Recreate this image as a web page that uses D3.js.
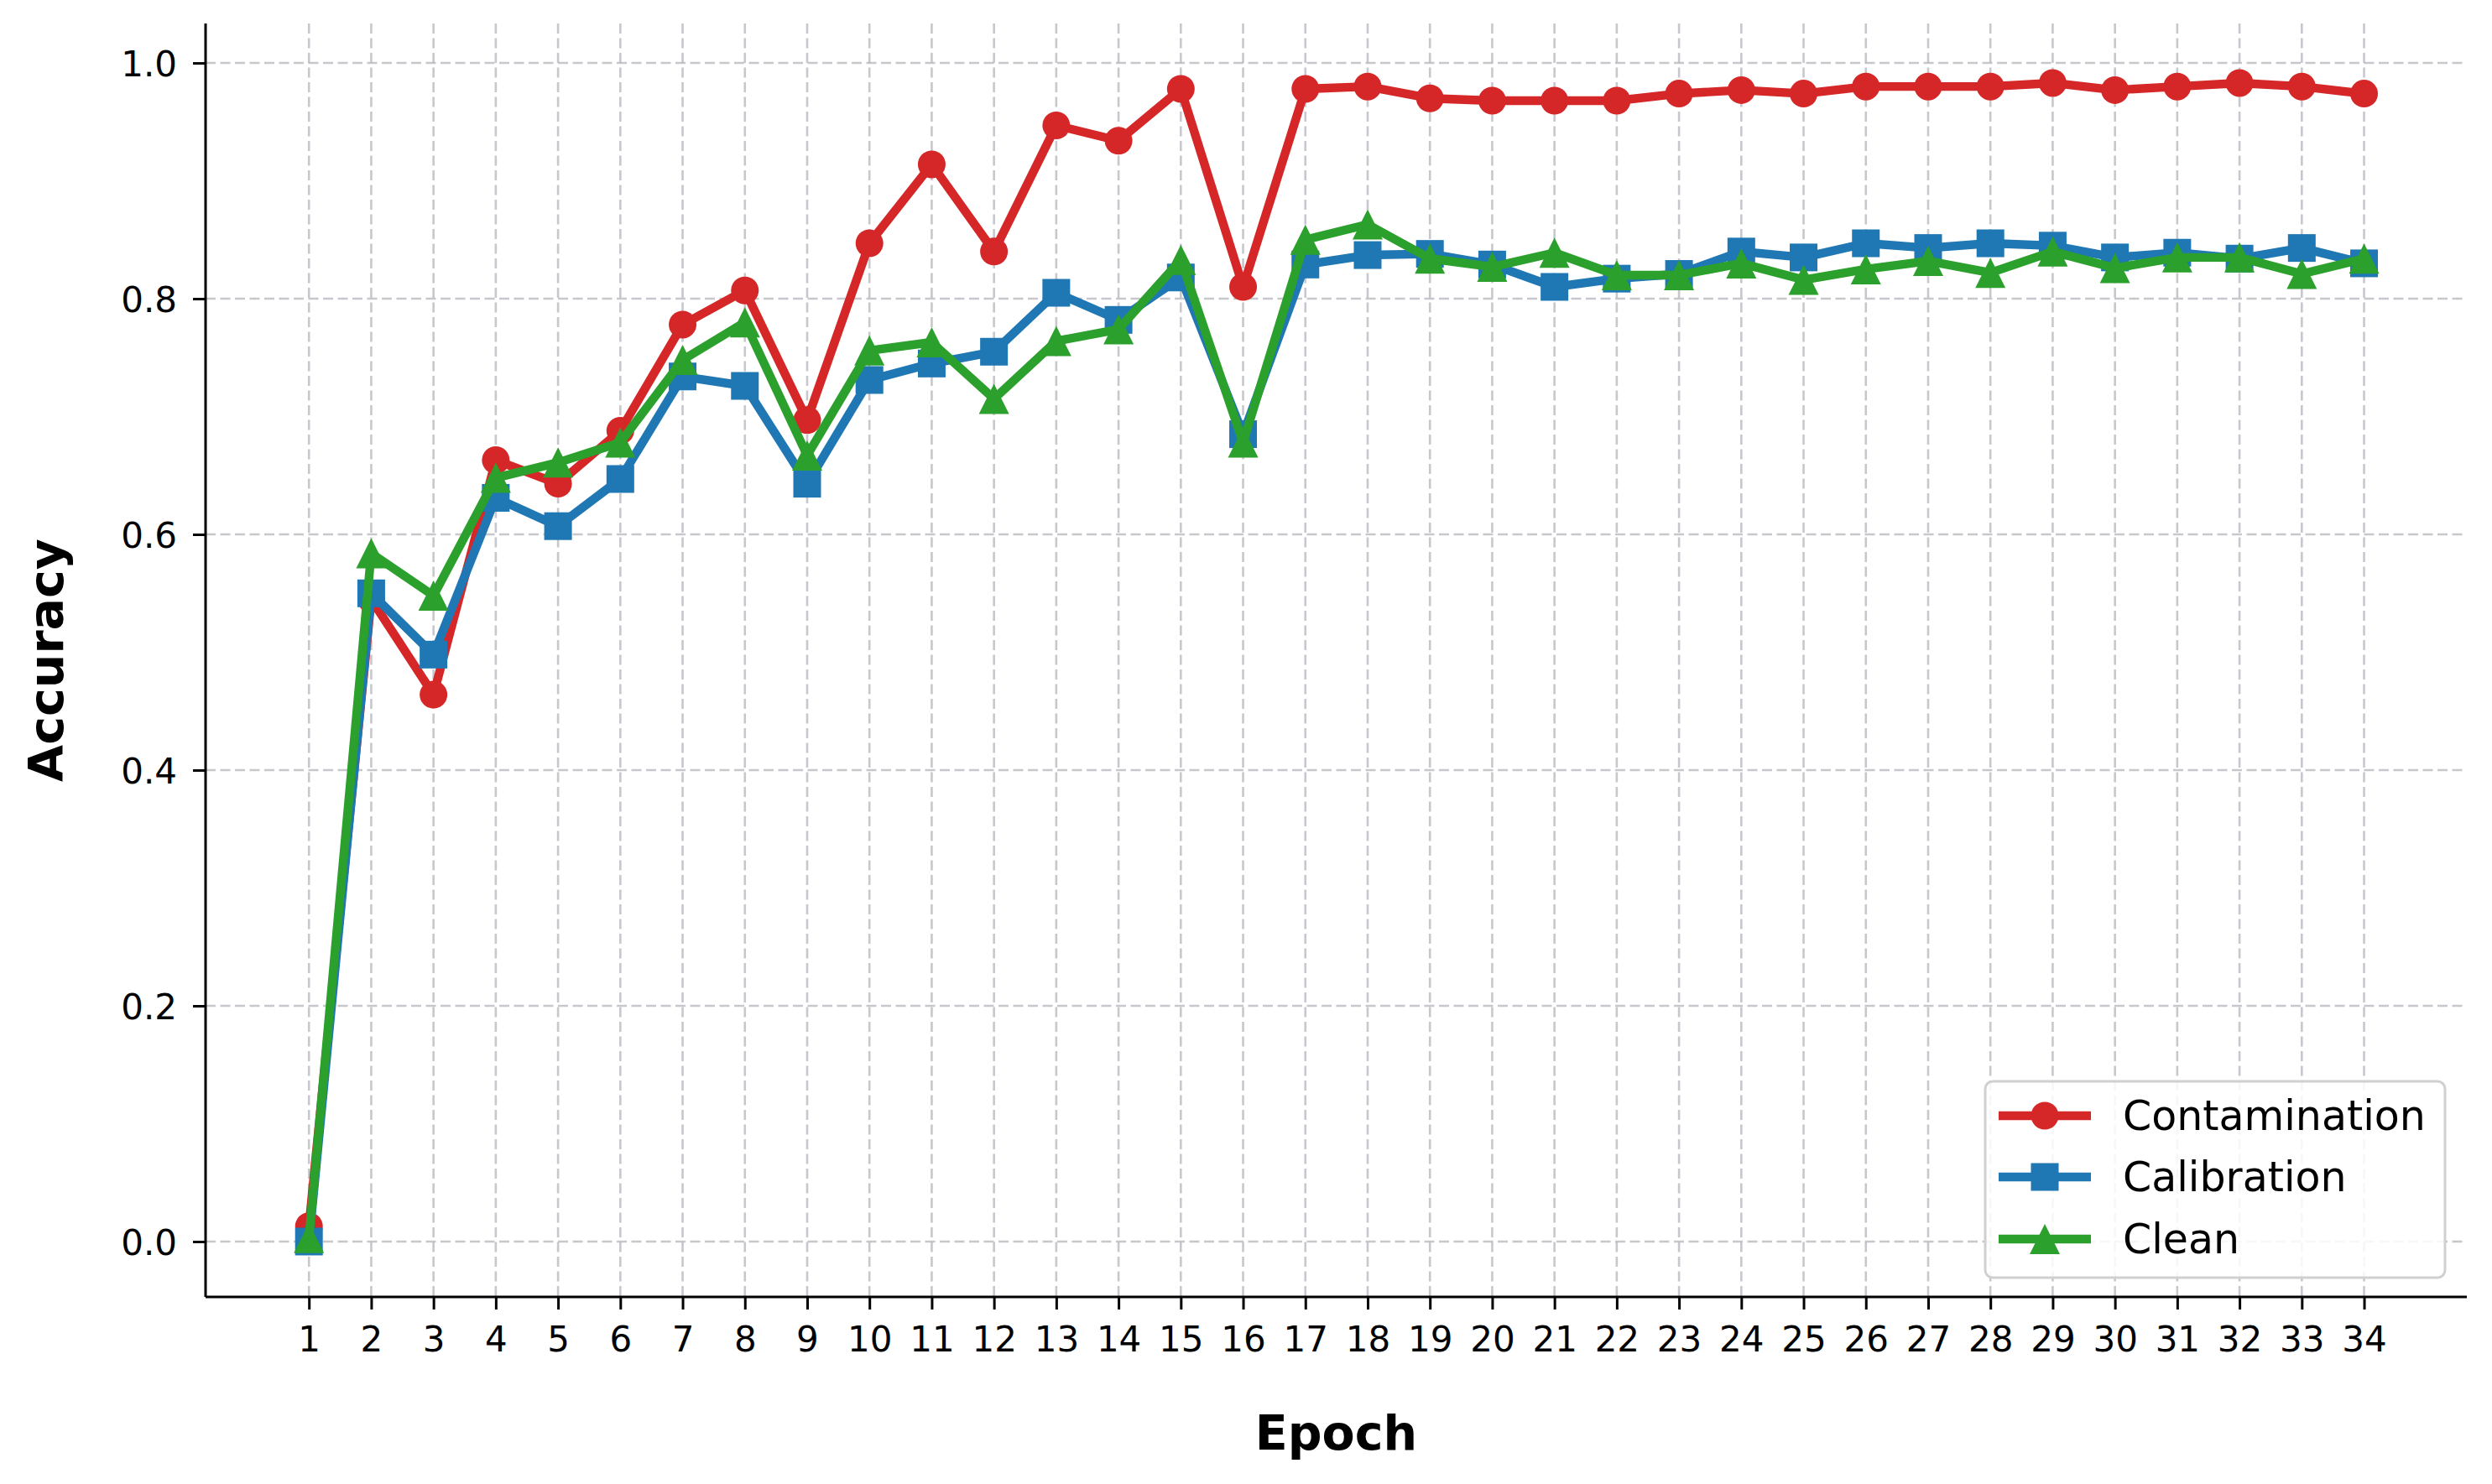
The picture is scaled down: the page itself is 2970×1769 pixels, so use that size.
<!DOCTYPE html>
<html>
<head>
<meta charset="utf-8">
<script src="https://cdn.jsdelivr.net/npm/d3@7"></script>
<style>
  html, body { margin: 0; padding: 0; background: #ffffff; }
  svg { display: block; }
  text { font-family: "DejaVu Sans", sans-serif; fill: #000; }
</style>
</head>
<body>
<svg id="chart" width="2970" height="1769"></svg>
<script>
// ---- data ----
const epochs = [1,2,3,4,5,6,7,8,9,10,11,12,13,14,15,16,17,18,19,20,21,22,23,24,25,26,27,28,29,30,31,32,33,34];
const contamination = [0.013, 0.545, 0.464, 0.663, 0.643, 0.688, 0.778, 0.807, 0.697, 0.847,
                       0.914, 0.840, 0.947, 0.934, 0.978, 0.810, 0.978, 0.980, 0.970, 0.968,
                       0.968, 0.968, 0.974, 0.977, 0.974, 0.980, 0.980, 0.980, 0.983, 0.977,
                       0.980, 0.983, 0.980, 0.974];
const calibration = [0.000, 0.550, 0.498, 0.631, 0.607, 0.647, 0.734, 0.726, 0.643, 0.731,
                     0.745, 0.755, 0.805, 0.782, 0.818, 0.685, 0.829, 0.837, 0.838, 0.829,
                     0.810, 0.817, 0.821, 0.840, 0.835, 0.847, 0.843, 0.847, 0.845, 0.835,
                     0.839, 0.834, 0.843, 0.830];
const clean = [0.003, 0.584, 0.548, 0.648, 0.661, 0.678, 0.748, 0.780, 0.667, 0.756,
               0.763, 0.715, 0.764, 0.774, 0.833, 0.678, 0.850, 0.863, 0.834, 0.827,
               0.839, 0.820, 0.820, 0.830, 0.816, 0.825, 0.832, 0.822, 0.840, 0.826,
               0.835, 0.835, 0.821, 0.834];
const seriesNames = ["Contamination", "Calibration", "Clean"];
const seriesColors = ["#d62728", "#1f77b4", "#2ca02c"];
const seriesMarkers = ["circle", "square", "triangle"];
const yTicks = [0.0, 0.2, 0.4, 0.6, 0.8, 1.0];
const xLabel = "Epoch";
const yLabel = "Accuracy";

const seriesValues = [contamination, calibration, clean];

// ---- layout ----
const L = 245, R = 2940, T = 28, B = 1546;
const svg = d3.select("#chart");

const x = d3.scaleLinear().domain([-0.66, 35.65]).range([L, R]);
const y = d3.scaleLinear().domain([-0.047, 1.0335]).range([B, T]);

// grid
const grid = svg.append("g");
grid.selectAll("line.v").data(epochs).join("line")
  .attr("x1", d => x(d)).attr("x2", d => x(d))
  .attr("y1", T).attr("y2", B)
  .attr("stroke", "#b4b4bc").attr("stroke-opacity", 0.75)
  .attr("stroke-width", 2.6).attr("stroke-dasharray", "12,5.5");
grid.selectAll("line.h").data(yTicks).join("line")
  .attr("x1", L).attr("x2", R)
  .attr("y1", d => y(d)).attr("y2", d => y(d))
  .attr("stroke", "#b4b4bc").attr("stroke-opacity", 0.75)
  .attr("stroke-width", 2.6).attr("stroke-dasharray", "12,5.5");

// axes
const xAxis = d3.axisBottom(x).tickValues(epochs).tickFormat(d3.format("d"))
  .tickSizeInner(15).tickSizeOuter(0).tickPadding(18);
const gx = svg.append("g").attr("transform", `translate(0,${B})`).call(xAxis);
gx.select(".domain").attr("stroke", "#000").attr("stroke-width", 3).attr("d", `M${L},0H${R}`);
gx.selectAll(".tick line").attr("stroke", "#000").attr("stroke-width", 3);
gx.selectAll(".tick text").attr("font-size", 42).attr("font-family", "DejaVu Sans")
  .attr("dy", null).attr("y", 65);

const yAxis = d3.axisLeft(y).tickValues(yTicks).tickFormat(d3.format(".1f"))
  .tickSizeInner(15).tickSizeOuter(0).tickPadding(19);
const gy = svg.append("g").attr("transform", `translate(${L},0)`).call(yAxis);
gy.select(".domain").attr("stroke", "#000").attr("stroke-width", 3).attr("d", `M0,${T}V${B}`);
gy.selectAll(".tick line").attr("stroke", "#000").attr("stroke-width", 3);
gy.selectAll(".tick text").attr("font-size", 42).attr("font-family", "DejaVu Sans")
  .attr("dy", "0.37em");

// axis labels
svg.append("text").attr("x", (L + R) / 2).attr("y", 1728)
  .attr("text-anchor", "middle").attr("font-size", 57).attr("font-weight", "bold")
  .text(xLabel);
svg.append("text").attr("transform", `translate(75,${(T + B) / 2}) rotate(-90)`)
  .attr("text-anchor", "middle").attr("font-size", 57).attr("font-weight", "bold")
  .text(yLabel);

// marker drawing
function drawMarker(g, type, cx, cy, color) {
  if (type === "circle") {
    g.append("circle").attr("cx", cx).attr("cy", cy).attr("r", 16.5).attr("fill", color);
  } else if (type === "square") {
    g.append("rect").attr("x", cx - 16.5).attr("y", cy - 16.5)
      .attr("width", 33).attr("height", 33).attr("fill", color);
  } else {
    const h = 36, w = 36;
    g.append("path")
      .attr("d", `M${cx},${cy - h / 2}L${cx - w / 2},${cy + h / 2}L${cx + w / 2},${cy + h / 2}Z`)
      .attr("fill", color);
  }
}

// series
const line = d3.line().x(d => x(d[0])).y(d => y(d[1]));
seriesValues.forEach((vals, i) => {
  const pts = epochs.map((e, j) => [e, vals[j]]);
  const g = svg.append("g");
  g.append("path").datum(pts).attr("d", line)
    .attr("fill", "none").attr("stroke", seriesColors[i])
    .attr("stroke-width", 10.4).attr("stroke-linejoin", "round").attr("stroke-linecap", "butt");
  pts.forEach(p => drawMarker(g, seriesMarkers[i], x(p[0]), y(p[1]), seriesColors[i]));
});

// legend
const lg = svg.append("g");
lg.append("rect").attr("x", 2366).attr("y", 1289).attr("width", 548).attr("height", 234)
  .attr("rx", 9).attr("ry", 9)
  .attr("fill", "#ffffff").attr("fill-opacity", 0.85)
  .attr("stroke", "#d0d0d0").attr("stroke-width", 3);
const rowY = [1330, 1403, 1477];
seriesNames.forEach((name, i) => {
  lg.append("line").attr("x1", 2382).attr("x2", 2492)
    .attr("y1", rowY[i]).attr("y2", rowY[i])
    .attr("stroke", seriesColors[i]).attr("stroke-width", 10.4);
  drawMarker(lg, seriesMarkers[i], 2437, rowY[i], seriesColors[i]);
  lg.append("text").attr("x", 2530).attr("y", rowY[i] + 17)
    .attr("font-size", 49).text(name);
});
</script>
</body>
</html>
